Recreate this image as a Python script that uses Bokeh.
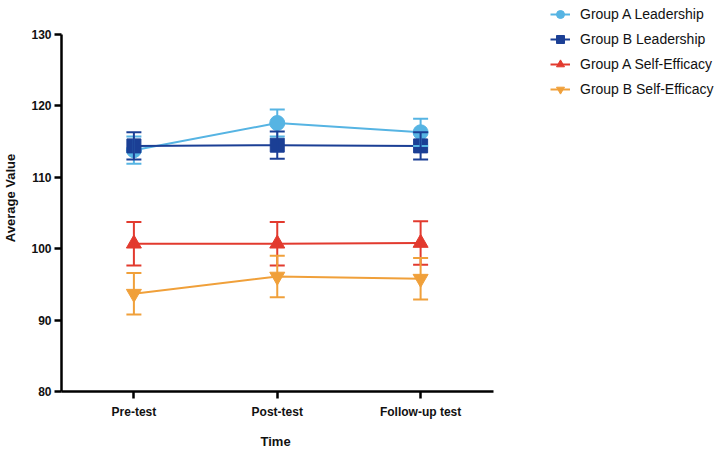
from bokeh.plotting import figure
from bokeh.models import (ColumnDataSource, Whisker, TeeHead, Legend, LegendItem,
                          FixedTicker, Range1d, Title)
from bokeh.embed import file_html
from bokeh.resources import INLINE

# Measurement occasions
time_points = ["Pre-test", "Post-test", "Follow-up test"]
x_pos = [0, 1, 2]

# Means and standard errors per group/measure
a_lead_mean = [113.8, 117.6, 116.3]
a_lead_err = [1.9, 1.9, 1.9]
b_lead_mean = [114.4, 114.5, 114.4]
b_lead_err = [1.9, 1.9, 1.9]
a_se_mean = [100.7, 100.7, 100.8]
a_se_err = [3.05, 3.05, 3.05]
b_se_mean = [93.7, 96.1, 95.8]
b_se_err = [2.9, 2.9, 2.9]

series_names = ["Group A Leadership", "Group B Leadership",
                "Group A Self-Efficacy", "Group B Self-Efficacy"]
colors = ["#56b4e3", "#1b3f95", "#e23a2e", "#f0a03a"]
markers = ["circle", "square", "triangle", "inverted_triangle"]
marker_sizes = [15, 14, 15, 15]

FONT = "Liberation Sans"

# The frame spans the canvas width so the legend can sit to the right of the
# axes; the visible axis lines are limited with bounds.
X_LO, X_HI = -0.505, 4.057
Y_LO, Y_HI = 80, 134.2

p = figure(width=720, height=459, output_backend="svg", toolbar_location=None,
           x_range=Range1d(X_LO, X_HI), y_range=Range1d(Y_LO, Y_HI),
           min_border_left=58, min_border_right=5,
           min_border_top=4, min_border_bottom=68)
p.outline_line_color = None
p.xgrid.visible = False
p.ygrid.visible = False
p.background_fill_color = "white"

items = []
all_means = [a_lead_mean, b_lead_mean, a_se_mean, b_se_mean]
all_errs = [a_lead_err, b_lead_err, a_se_err, b_se_err]
for name, mean, err, col, mk, ms in zip(series_names, all_means, all_errs,
                                        colors, markers, marker_sizes):
    src = ColumnDataSource(dict(
        x=x_pos, y=mean,
        lo=[m - e for m, e in zip(mean, err)],
        hi=[m + e for m, e in zip(mean, err)],
    ))
    w = Whisker(source=src, base="x", upper="hi", lower="lo",
                line_color=col, line_width=2, level="glyph",
                upper_head=TeeHead(size=15, line_color=col, line_width=2),
                lower_head=TeeHead(size=15, line_color=col, line_width=2))
    p.add_layout(w)
    ln = p.line("x", "y", source=src, line_color=col, line_width=2)
    sc = p.scatter("x", "y", source=src, marker=mk, size=ms,
                   fill_color=col, line_color=col)
    items.append(LegendItem(label=name, renderers=[ln, sc]))

legend = Legend(items=items, location=(489, 292), padding=0, margin=0,
                spacing=5, glyph_width=20, glyph_height=20, label_standoff=10,
                label_text_font=FONT, label_text_font_size="14px",
                label_text_color="#111111",
                border_line_color=None, background_fill_alpha=0)
p.add_layout(legend, "center")

# Axes
p.xaxis.ticker = FixedTicker(ticks=x_pos)
p.xaxis.major_label_overrides = {i: t for i, t in zip(x_pos, time_points)}
p.xaxis.bounds = (-0.505, 2.505)
p.yaxis.ticker = FixedTicker(ticks=[80, 90, 100, 110, 120, 130])
p.yaxis.bounds = (80, 130)
for ax in (p.xaxis[0], p.yaxis[0]):
    ax.axis_line_width = 2.5
    ax.axis_line_color = "black"
    ax.major_tick_line_width = 2.5
    ax.major_tick_line_color = "black"
    ax.major_tick_out = 7
    ax.major_tick_in = 0
    ax.minor_tick_line_color = None
    ax.major_label_text_font = FONT
    ax.major_label_text_font_style = "bold"
    ax.major_label_text_font_size = "12px"
    ax.major_label_text_color = "#111111"

p.xaxis.major_label_standoff = 6
p.yaxis.axis_label = "Average Value"
p.yaxis.axis_label_text_font = FONT
p.yaxis.axis_label_text_font_style = "bold"
p.yaxis.axis_label_text_font_size = "13px"
p.yaxis.axis_label_text_color = "#111111"
p.yaxis.major_label_standoff = 3
p.yaxis.axis_label_standoff = 10

# x-axis title, placed under the middle of the bounded axis line
time_title = Title(text="Time", align="left", offset=199, standoff=21,
                   text_font=FONT, text_font_style="bold",
                   text_font_size="13px", text_color="#111111")
p.add_layout(time_title, "below")

open("out.html", "w").write(file_html(p, INLINE))
